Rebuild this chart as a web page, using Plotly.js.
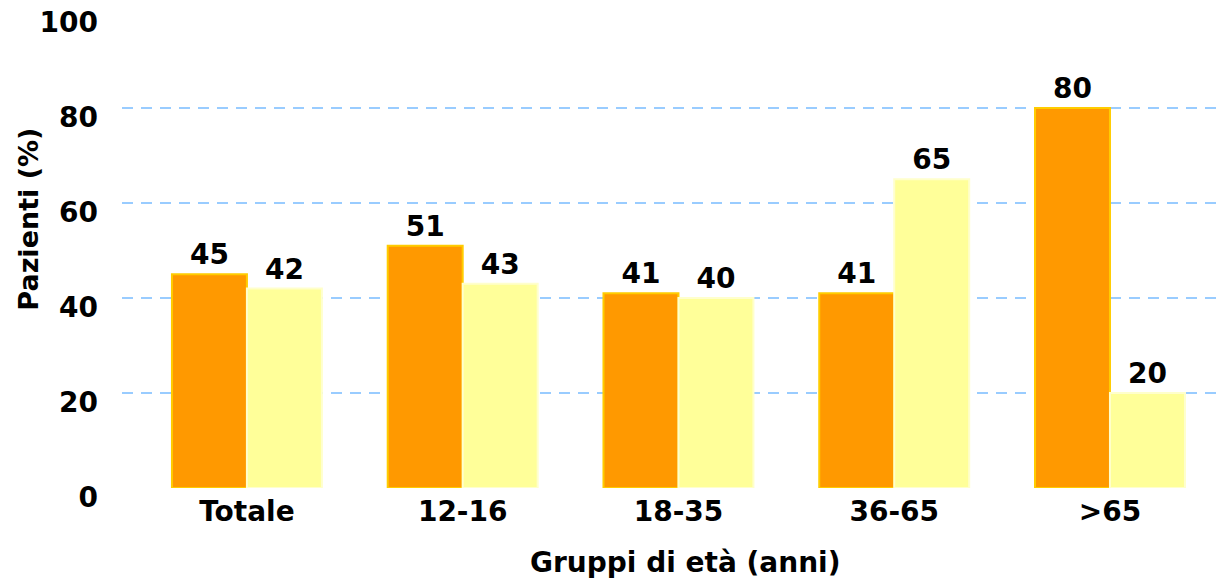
<!DOCTYPE html>
<html>
<head>
<meta charset="utf-8">
<script src="https://cdn.plot.ly/plotly-3.0.1.min.js"></script>
<style>
  html, body { margin: 0; padding: 0; background: #ffffff; }
  #chart { width: 1218px; height: 579px; }
</style>
</head>
<body>
<div id="chart"></div>
<script>
// Age groups and share of patients (%) for the two series
const categories = ['Totale', '12-16', '18-35', '36-65', '>65'];
const seriesA = [45, 51, 41, 41, 80];
const seriesB = [42, 43, 40, 65, 20];
const yTicks = [0, 20, 40, 60, 80, 100];

const FONT = 'DejaVu Sans, Verdana, sans-serif';
const boldFont = (size) => ({ family: FONT, size: size, color: '#000000', weight: 'bold' });

const traceA = {
  type: 'bar',
  x: categories,
  y: seriesA,
  text: seriesA.map(String),
  textposition: 'outside',
  textfont: boldFont(28),
  cliponaxis: false,
  marker: { color: '#FF9900', line: { color: '#FFCC00', width: 2 } },
  hoverinfo: 'skip'
};

const traceB = {
  type: 'bar',
  x: categories,
  y: seriesB,
  text: seriesB.map(String),
  textposition: 'outside',
  textfont: boldFont(28),
  cliponaxis: false,
  marker: { color: '#FFFF99', line: { color: '#FFFFCC', width: 2 } },
  hoverinfo: 'skip'
};

// Invisible trace that carries the value-axis labels, set slightly below the grid
const labelTrace = {
  type: 'scatter',
  x: [categories[0]],
  y: [0],
  yaxis: 'y2',
  mode: 'markers',
  marker: { opacity: 0 },
  hoverinfo: 'skip',
  showlegend: false
};

const layout = {
  width: 1218,
  height: 579,
  margin: { l: 122, r: 1, t: 13, b: 82 },
  paper_bgcolor: '#ffffff',
  plot_bgcolor: 'rgba(0,0,0,0)',
  showlegend: false,
  barmode: 'group',
  bargap: 0.305,
  bargroupgap: 0,
  xaxis: {
    type: 'category',
    range: [-0.579, 4.496],
    showgrid: false,
    zeroline: false,
    showline: false,
    ticks: '',
    tickfont: boldFont(28),
    ticklabelstandoff: 4,
    fixedrange: true
  },
  yaxis: {
    domain: [0.0186, 1],
    range: [0, 100],
    tickvals: yTicks,
    showticklabels: false,
    showgrid: true,
    gridcolor: '#99CCFF',
    gridwidth: 2,
    griddash: '11px,8px',
    zeroline: false,
    showline: false,
    ticks: '',
    automargin: false,
    fixedrange: true
  },
  yaxis2: {
    domain: [0, 0.9814],
    range: [-0.01, 100.01],
    anchor: 'free',
    position: 0,
    side: 'left',
    tickvals: yTicks,
    ticktext: yTicks.map(String),
    tickfont: boldFont(28),
    ticklabelstandoff: 24,
    showgrid: false,
    zeroline: false,
    showline: false,
    ticks: '',
    automargin: false,
    fixedrange: true
  },
  annotations: [{
    text: 'Gruppi di età (anni)',
    xref: 'x',
    x: 2,
    xshift: 7,
    yref: 'paper',
    y: -0.135,
    yanchor: 'middle',
    xanchor: 'center',
    showarrow: false,
    font: boldFont(28)
  }, {
    text: 'Pazienti (%)',
    textangle: -90,
    xref: 'paper',
    x: -0.085,
    xanchor: 'center',
    yref: 'paper',
    y: 0.575,
    yanchor: 'middle',
    showarrow: false,
    font: boldFont(27)
  }]
};

Plotly.newPlot('chart', [traceA, traceB, labelTrace], layout, { displayModeBar: false, staticPlot: true });
</script>
</body>
</html>
